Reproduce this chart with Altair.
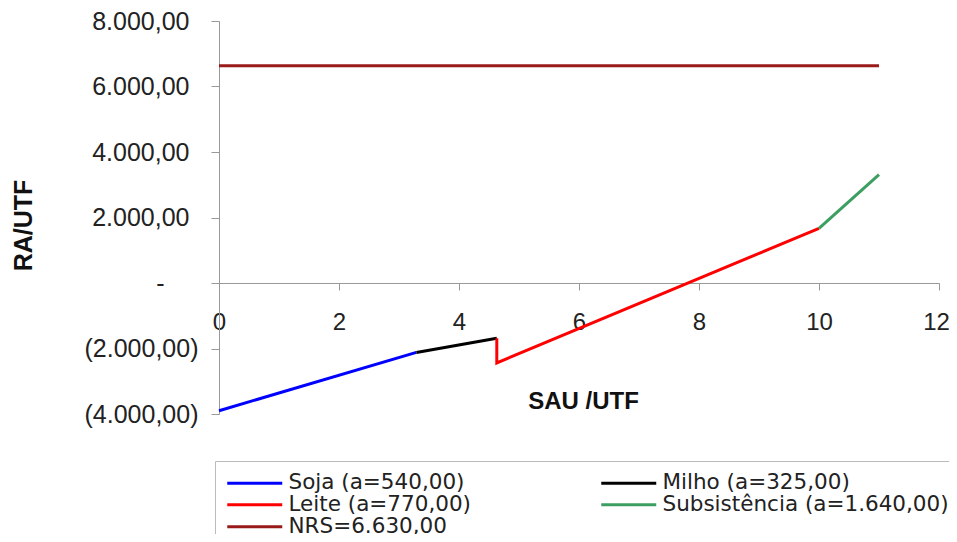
import altair as alt
import pandas as pd

# Data (legend order: column by column)
series_names = ["Soja (a=540,00)", "Leite (a=770,00)", "NRS=6.630,00",
                "Milho (a=325,00)", "Subsistência (a=1.640,00)"]
series_colors = ["#0000FF", "#FF0000", "#9A1A1A", "#000000", "#3D9E62"]

soja_x = [0, 3.29]
soja_y = [-3900, -2120]
milho_x = [3.29, 4.63]
milho_y = [-2120, -1690]
leite_x = [4.63, 4.63, 10]
leite_y = [-1690, -2440, 1670]
subs_x = [10, 11]
subs_y = [1670, 3310]
nrs_x = [0, 11]
nrs_y = [6630, 6630]

x_ticks = [0, 2, 4, 6, 8, 10, 12]
y_ticks = [-4000, -2000, 0, 2000, 4000, 6000, 8000]

series_data = {
    "Soja (a=540,00)": (soja_x, soja_y),
    "Milho (a=325,00)": (milho_x, milho_y),
    "Leite (a=770,00)": (leite_x, leite_y),
    "Subsistência (a=1.640,00)": (subs_x, subs_y),
    "NRS=6.630,00": (nrs_x, nrs_y),
}
rows = []
for name, (xs, ys) in series_data.items():
    for i, (xv, yv) in enumerate(zip(xs, ys)):
        rows.append({"serie": name, "x": xv, "y": yv, "i": i})
df = pd.DataFrame(rows)

fmt = "replace(replace(replace(format(abs(datum.value), ',.2f'), ',', '_'), '.', ','), '_', '.')"
y_label_expr = f"datum.value == 0 ? '-' : (datum.value < 0 ? '(' + {fmt} + ')' : {fmt})"

FONT = "Liberation Sans"

chart = alt.Chart(df).mark_line(strokeWidth=3).encode(
    x=alt.X("x:Q",
            scale=alt.Scale(domain=[0, 12], nice=False, zero=False),
            axis=alt.Axis(values=x_ticks, title="SAU /UTF", offset=-131,
                          tickSize=7, labelPadding=20, labelFontSize=24,
                          labelOffset={"condition": {"test": "datum.value == 12", "value": -3},
                                       "value": 0},
                          labelFont=FONT, labelColor="#222", labelFlush=False,
                          domainColor="#999", tickColor="#999", grid=False,
                          titleFont=FONT, titleFontSize=24, titleFontWeight="bold",
                          titleColor="#111", titleX=364, titleY=125,
                          titleBaseline="alphabetic", titleAlign="center")),
    y=alt.Y("y:Q",
            scale=alt.Scale(domain=[-4000, 8000], nice=False, zero=False),
            axis=alt.Axis(values=y_ticks, labelExpr=y_label_expr, title="RA/UTF",
                          tickSize=8, labelFontSize=25,
                          labelPadding={"condition": [
                              {"test": "datum.value == 0", "value": 47},
                              {"test": "datum.value > 0", "value": 22}],
                              "value": 13},
                          labelFont=FONT, labelColor="#222",
                          domainColor="#999", tickColor="#999", grid=False,
                          titleFont=FONT, titleFontSize=25, titleFontWeight="bold",
                          titleColor="#111", titleAngle=270, titleX=-188, titleY=204,
                          titleBaseline="alphabetic", titleAlign="center")),
    color=alt.Color("serie:N",
                    scale=alt.Scale(domain=series_names, range=series_colors),
                    legend=alt.Legend(orient="none", legendX=-4, legendY=440,
                                      columns=2, columnPadding=124, rowPadding=-2,
                                      title=None, symbolType="M-4,0H4",
                                      symbolSize=189, symbolStrokeWidth=3,
                                      symbolOffset=18, labelOffset=23,
                                      labelFontSize=21.5,
                                      labelFont="DejaVu Sans", labelColor="#222",
                                      labelLimit=500, padding=11,
                                      strokeColor="#BBBBBB", fillColor="white")),
    detail="serie:N",
    order=alt.Order("i:Q"),
).properties(
    width=720, height=393,
    autosize=alt.AutoSizeParams(type="none"),
    padding={"left": 211, "top": 13, "right": 10, "bottom": 120},
).configure_view(stroke=None)

chart.save("out.html", embed_options={"renderer": "svg", "actions": False})
